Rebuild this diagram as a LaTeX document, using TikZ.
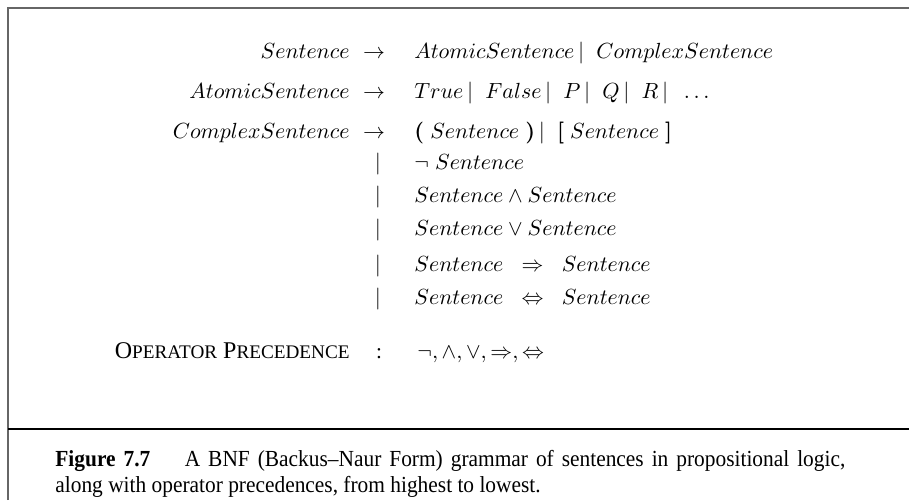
\documentclass[tikz,border=0pt]{standalone}
\usepackage{bm}
\usepackage{fontspec}
\setmainfont{Liberation Serif}
\newfontfamily\captionfont{Liberation Serif}[FakeStretch=0.93,Ligatures=TeX]
\usetikzlibrary{positioning}

\definecolor{frame gray}{gray}{0.4}

\begin{document}
\begin{tikzpicture}[x=0.5pt,y=-0.5pt,
  lhs/.style={anchor=base east,inner sep=0pt},
  rhs/.style={anchor=base west,inner sep=0pt},
  sym/.style={anchor=base,inner sep=0pt},
  font=\fontsize{10.6}{12.5}\selectfont]
\useasboundingbox (0,0) rectangle (909,500);

% frame of the figure and rule above the caption
\draw[frame gray,line width=1pt] (8,500) -- (8,8) -- (909,8);
\draw[line width=1.1pt] (8,429) -- (909,429);

% left hand sides
\node[lhs] (sent)    at (350,58)  {$Sentence$};
\node[lhs] (atomic)  at (350,98)  {$AtomicSentence$};
\node[lhs] (complex) at (350,138) {$ComplexSentence$};

% arrows and bars
\node[sym] (arr1) at (374,58)  {$\rightarrow$};
\node[sym] (arr2) at (374,98)  {$\rightarrow$};
\node[sym] (arr3) at (374,138) {$\rightarrow$};
\node[sym] (bar4) at (378,169) {$|$};
\node[sym] (bar5) at (378,202) {$|$};
\node[sym] (bar6) at (378,235) {$|$};
\node[sym] (bar7) at (378,271) {$|$};
\node[sym] (bar8) at (378,304) {$|$};

% right hand sides
\node[rhs] (rhs1) at (414,58)  {$AtomicSentence\,|\;\; ComplexSentence$};
\node[rhs] (rhs2) at (414,98)  {$True\,|\;\; False\,|\;\; P\,|\;\; Q\,|\;\; R\,|\;\; \ldots$};
\node[rhs] (rhs3) at (414,138) {$\bm{(}\; Sentence\;\bm{)}\,|\;\; \bm{[}\; Sentence\;\bm{]}$};
\node[rhs] (rhs4) at (414,169) {$\neg\; Sentence$};
\node[rhs] (rhs5) at (414,202) {$Sentence \wedge Sentence$};
\node[rhs] (rhs6) at (414,235) {$Sentence \vee Sentence$};
\node[rhs] (rhs7) at (414,271) {$Sentence\;\;\Rightarrow\;\;Sentence$};
\node[rhs] (rhs8) at (414,304) {$Sentence\;\;\Leftrightarrow\;\;Sentence$};

% precedence line
\node[lhs,font=\fontsize{12}{14}\selectfont] (prec) at (350,358)
  {O{\fontsize{9.6}{11}\selectfont PERATOR} P{\fontsize{9.6}{11}\selectfont RECEDENCE}};
\node[sym] (colon) at (379,358) {:};
\node[rhs] (ops)   at (417,358) {$\neg,\wedge,\vee,\Rightarrow,\Leftrightarrow$};

% caption
\node[anchor=base west,inner sep=0pt,text width=395pt,align=justify,
      font=\captionfont\fontsize{11.5}{13}\selectfont] (caption) at (55,466)
  {\textbf{Figure 7.7}\hspace{1.5em}A BNF (Backus--Naur Form) grammar of sentences in propositional logic,
   along with operator precedences, from highest to lowest.};
\end{tikzpicture}
\end{document}
